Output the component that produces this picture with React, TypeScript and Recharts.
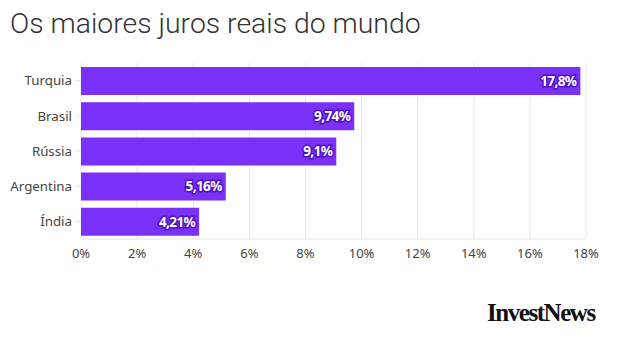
import React from "react";
import { BarChart, Bar, XAxis, YAxis, CartesianGrid, LabelList } from "recharts";

const categories = ["Turquia", "Brasil", "Rússia", "Argentina", "Índia"];
const values = [17.8, 9.74, 9.1, 5.16, 4.21];
const xTicks = [0, 2, 4, 6, 8, 10, 12, 14, 16, 18];

const data = categories.map((c, i) => ({ name: c, value: values[i] }));

const fmt = (v: number) => String(v).replace(".", ",") + "%";

export default function App() {
  return (
    <div style={{ position: "absolute", left: 0, top: 0, width: 619, height: 344, background: "#fff", overflow: "hidden" }}>
      <div
        style={{
          position: "absolute",
          left: 10,
          top: 4,
          fontFamily: "Roboto",
          fontWeight: 300,
          fontSize: 28.4,
          color: "#333",
          whiteSpace: "nowrap",
          lineHeight: "40px",
        }}
      >
        Os maiores juros reais do mundo
      </div>
      <div style={{ position: "absolute", left: 0, top: 0 }}>
        <BarChart
          width={619}
          height={344}
          data={data}
          layout="vertical"
          margin={{ top: 63, right: 33, bottom: 75, left: 0 }}
          barSize={28}
        >
          <CartesianGrid horizontal={false} stroke="#e6e6e6" />
          <XAxis
            type="number"
            domain={[0, 18]}
            ticks={xTicks}
            interval={0}
            tickFormatter={(v: number) => v + "%"}
            tickLine={false}
            tickSize={0}
            tickMargin={10}
            axisLine={{ stroke: "#e6e6e6" }}
            tick={{ fill: "#444", fontSize: 13, fontFamily: "Noto Sans" }}
            height={30}
          />
          <YAxis
            type="category"
            dataKey="name"
            width={81}
            tickSize={6}
            tickMargin={3}
            tickLine={{ stroke: "#e6e6e6" }}
            axisLine={false}
            tick={{ fill: "#444", fontSize: 13.3, fontFamily: "Noto Sans" }}
          />
          <Bar dataKey="value" fill="#7a31f7" isAnimationActive={false}>
            <LabelList
              dataKey="value"
              position="insideRight"
              offset={4}
              formatter={(v: number) => fmt(v)}
              style={{
                fill: "#fff",
                stroke: "#4f0fc4",
                strokeWidth: 3,
                paintOrder: "stroke",
                fontWeight: 700,
                fontSize: 13.5,
                fontFamily: "Noto Sans",
                letterSpacing: -0.6,
              }}
            />
          </Bar>
        </BarChart>
      </div>
      <div
        style={{
          position: "absolute",
          left: 487,
          top: 298,
          fontFamily: "Liberation Serif",
          fontWeight: 700,
          fontSize: 25,
          letterSpacing: -1.45,
          color: "#111",
          whiteSpace: "nowrap",
          lineHeight: "30px",
        }}
      >
        InvestNews
      </div>
    </div>
  );
}
